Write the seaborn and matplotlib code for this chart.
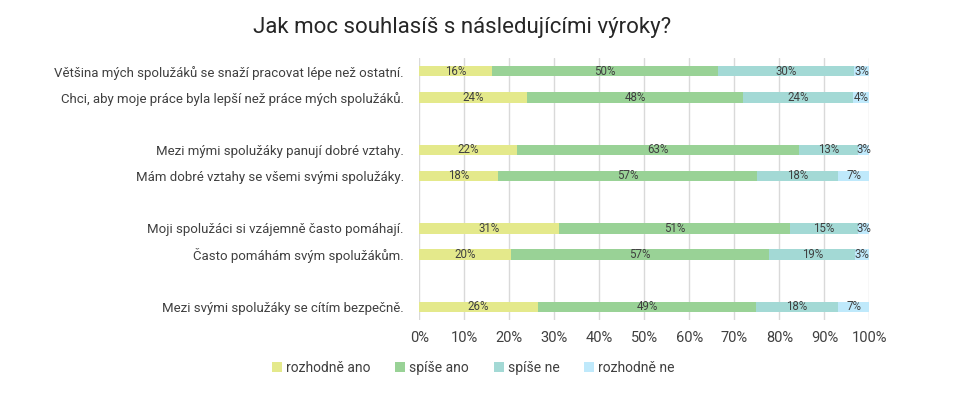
import numpy as np
import pandas as pd
import matplotlib
matplotlib.use("Agg")
import matplotlib.pyplot as plt
import seaborn as sns
from matplotlib.patches import Patch
from matplotlib.ticker import PercentFormatter

# ==========================
# Data
# ==========================

statements = [
    "Většina mých spolužáků se snaží pracovat lépe než ostatní.",
    "Chci, aby moje práce byla lepší než práce mých spolužáků.",
    "Mezi mými spolužáky panují dobré vztahy.",
    "Mám dobré vztahy se všemi svými spolužáky.",
    "Moji spolužáci si vzájemně často pomáhají.",
    "Často pomáhám svým spolužákům.",
    "Mezi svými spolužáky se cítím bezpečně.",
]
row_pos = [0, 1, 3, 4, 6, 7, 9]

answers = ["rozhodně ano", "spíše ano", "spíše ne", "rozhodně ne"]

rozhodne_ano = [16.2, 23.9, 21.8, 17.6, 31.0, 20.4, 26.3]
spise_ano = [50.2, 48.1, 62.6, 57.4, 51.4, 57.4, 48.6]
spise_ne = [30.2, 24.4, 13.0, 18.1, 15.0, 19.1, 18.1]
rozhodne_ne = [3.4, 3.6, 2.6, 6.9, 2.6, 3.1, 7.0]

colors = ["#e4e98b", "#99d296", "#a3d9d5", "#bfe9fb"]

# ==========================
# Frame
# ==========================

df = pd.DataFrame({
    "statement": statements,
    "pos": row_pos,
    answers[0]: rozhodne_ano,
    answers[1]: spise_ano,
    answers[2]: spise_ne,
    answers[3]: rozhodne_ne,
})

cum = df[answers].cumsum(axis=1)

# ==========================
# Plot
# ==========================

sns.set_theme(style="white")
plt.rcParams["font.family"] = ["Roboto", "DejaVu Sans"]

fig = plt.figure(figsize=(9.66, 3.93), dpi=100)
ax = fig.add_axes([0.434, 0.186, 0.466, 0.666])

# stacked bars: draw cumulative totals from the back to the front
for ans, col in reversed(list(zip(answers, colors))):
    sns.barplot(
        x=cum[ans],
        y=df["pos"],
        orient="h",
        native_scale=True,
        color=col,
        width=0.4,
        saturation=1,
        linewidth=0,
        ax=ax,
    )

for i, row in df.iterrows():
    left = 0
    for ans in answers:
        v = row[ans]
        ax.text(
            left + v / 2,
            row["pos"],
            f"{v:.0f}%",
            ha="center",
            va="center",
            fontsize=8.3,
            color="#404040",
        )
        left += v

ax.set_xlim(0, 100)
ax.set_ylim(9.5, -0.5)
ax.set_xticks(np.arange(0, 101, 10))
ax.xaxis.set_major_formatter(PercentFormatter(decimals=0))
ax.set_yticks(row_pos)
ax.set_yticklabels(statements)
ax.set_xlabel("")
ax.set_ylabel("")

ax.grid(axis="x", color="#d9d9d9", linewidth=1)
ax.set_axisbelow(True)
for s in ax.spines.values():
    s.set_visible(False)

ax.tick_params(axis="y", length=0, pad=11, labelsize=9.5, labelcolor="#404040")
ax.tick_params(axis="x", length=0, pad=8, labelsize=10.5, labelcolor="#404040")

fig.text(0.478, 0.93, "Jak moc souhlasíš s následujícími výroky?",
         ha="center", va="center", fontsize=16, color="#262626")

handles = [Patch(facecolor=c, edgecolor="none", label=a) for a, c in zip(answers, colors)]
fig.legend(
    handles=handles,
    loc="center",
    bbox_to_anchor=(0.49, 0.064),
    ncol=4,
    frameon=False,
    fontsize=10,
    handlelength=0.7,
    handleheight=0.7,
    handletextpad=0.3,
    columnspacing=1.8,
    labelcolor="#404040",
)

fig.savefig("out.png", dpi=100)
plt.close(fig)
